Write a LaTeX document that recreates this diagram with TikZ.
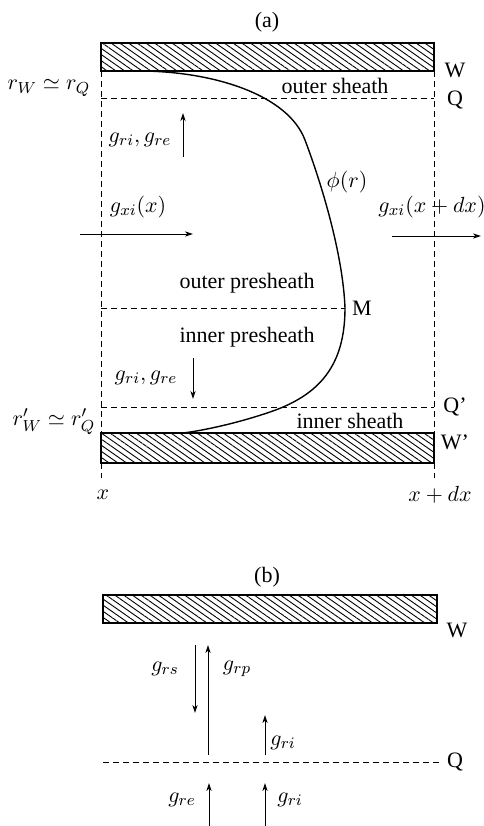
\documentclass[tikz,border=0pt]{standalone}
\usepackage{fontspec}
\setmainfont{Liberation Serif}
\usetikzlibrary{arrows.meta,patterns.meta}
\begin{document}
\begin{tikzpicture}[x=0.5pt,y=-0.5pt,
  font=\fontsize{11}{13}\selectfont,
  wall/.style={draw,line width=0.9pt,pattern={Lines[angle=-35,distance=2.5pt,line width=0.45pt]}},
  guide/.style={dashed,dash pattern=on 3pt off 2pt,line width=0.5pt},
  flux/.style={line width=0.5pt,-{Stealth[length=4pt,width=2.6pt,inset=1.2pt]}},
  curve/.style={line width=0.7pt},
  lbl/.style={inner sep=0pt}]
\useasboundingbox (0,0) rectangle (483,826);
% ---------- panel (a) ----------
\node[lbl] (ta) at (267,22) {(a)};
\draw[wall] (101,43) rectangle (434,71);
\draw[wall] (101,433) rectangle (434,463);
\coordinate (wl1) at (101,71);  \coordinate (wl2) at (101,433);
\coordinate (wr1) at (434,71);  \coordinate (wr2) at (434,433);
\coordinate (wl3) at (101,463); \coordinate (wl4) at (101,478);
\coordinate (wr3) at (434,463); \coordinate (wr4) at (434,478);
\draw[guide] (wl1) -- (wl2);
\draw[guide] (wr1) -- (wr2);
\draw[guide] (wl3) -- (wl4);
\draw[guide] (wr3) -- (wr4);
\coordinate (q1) at (101,98);  \coordinate (q2) at (434,98);
\coordinate (m1) at (101,308); \coordinate (m2) at (345,308);
\coordinate (qp1) at (101,407); \coordinate (qp2) at (434,407);
\draw[guide] (q1) -- (q2);
\draw[guide] (m1) -- (m2);
\draw[guide] (qp1) -- (qp2);
% potential curve
\coordinate (c0) at (143,71);
\coordinate (c1) at (305,140);
\coordinate (c3) at (270,412);
\coordinate (c4) at (183,433);
\draw[curve] (c0) .. controls (215,72) and (288,95) .. (c1)
  .. controls (322,185) and (343,255) .. (m2)
  .. controls (345,365) and (320,395) .. (c3)
  .. controls (235,424) and (200,431) .. (c4);
% labels
\node[lbl] (W) at (455,70) {W};
\node[lbl] (Q) at (455,100) {Q};
\node[lbl] (rw) at (49,88) {$r_W \simeq r_Q$};
\node[lbl] (os) at (335,86) {outer sheath};
\node[lbl] (g1) at (140,140) {$g_{ri}, g_{re}$};
\node[lbl] (phi) at (347,182) {$\phi(r)$};
\node[lbl] (gx1) at (138,207) {$g_{xi}(x)$};
\node[lbl] (gx2) at (432,207) {$g_{xi}(x+dx)$};
\node[lbl] (op) at (247,283) {outer presheath};
\node[lbl] (M) at (362,308) {M};
\node[lbl] (ip) at (247,337) {inner presheath};
\node[lbl] (g2) at (146,378) {$g_{ri}, g_{re}$};
\node[lbl] (Qp) at (455,407) {Q'};
\node[lbl] (rwp) at (54,422) {$r'_W \simeq r'_Q$};
\node[lbl] (is) at (350,421) {inner sheath};
\node[lbl] (Wp) at (455,442) {W'};
\node[lbl] (xl) at (103,495) {$x$};
\node[lbl] (xr) at (440,495) {$x+dx$};
% arrows
\coordinate (a1s) at (183,157); \coordinate (a1e) at (183,113);
\draw[flux] (a1s) -- (a1e);
\coordinate (a2s) at (80,234); \coordinate (a2e) at (193,234);
\draw[flux] (a2s) -- (a2e);
\coordinate (a3s) at (392,236); \coordinate (a3e) at (481,236);
\draw[flux] (a3s) -- (a3e);
\coordinate (a4s) at (193,358); \coordinate (a4e) at (193,399);
\draw[flux] (a4s) -- (a4e);
% ---------- panel (b) ----------
\node[lbl] (tb) at (267,577) {(b)};
\draw[wall] (103,595) rectangle (437,623);
\node[lbl] (Wb) at (457,630) {W};
\coordinate (qb1) at (103,762); \coordinate (qb2) at (440,762);
\draw[guide] (qb1) -- (qb2);
\node[lbl] (Qb) at (455,762) {Q};
\coordinate (b1s) at (195,645); \coordinate (b1e) at (195,713);
\draw[flux] (b1s) -- (b1e);
\coordinate (b2s) at (208,755); \coordinate (b2e) at (208,645);
\draw[flux] (b2s) -- (b2e);
\coordinate (b3s) at (265,755); \coordinate (b3e) at (265,715);
\draw[flux] (b3s) -- (b3e);
\coordinate (b4s) at (209,826); \coordinate (b4e) at (209,783);
\draw[flux] (b4s) -- (b4e);
\coordinate (b5s) at (265,826); \coordinate (b5e) at (265,783);
\draw[flux] (b5s) -- (b5e);
\node[lbl] (grs) at (165,669) {$g_{rs}$};
\node[lbl] (grp) at (237,669) {$g_{rp}$};
\node[lbl] (gri1) at (283,743) {$g_{ri}$};
\node[lbl] (gre) at (182,800) {$g_{re}$};
\node[lbl] (gri2) at (290,800) {$g_{ri}$};
\end{tikzpicture}
\end{document}
